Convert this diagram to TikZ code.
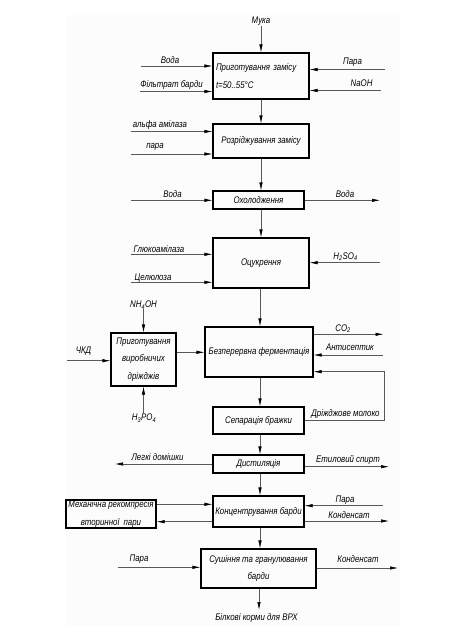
\documentclass[tikz,border=0pt]{standalone}
\usepackage{fontspec}
\setmainfont{Liberation Sans}[FakeStretch=0.82]
\usetikzlibrary{arrows.meta,calc}
\newcommand\dgfont{\fontsize{9.6}{17.5}\selectfont\itshape}
\begin{document}
\begin{tikzpicture}[x=1pt,y=-1pt,
  box/.style={draw=black,line width=1.1pt,inner sep=0pt,align=center,font=\dgfont},
  lbl/.style={inner sep=0pt,font=\dgfont},
  ln/.style={draw=black!65,line width=0.6pt},
  con/.style={ln,-{Latex[length=8pt,width=3.4pt,color=black]}}]
\useasboundingbox (0,0) rectangle (450,626);
\fill[black!1] (66,15) rectangle (400,626);
\coordinate (sp) at (260,0);

% boxes
\node[box,minimum width=96pt,minimum height=46pt,text width=90pt,align=left] (b1) at (261,76) {Приготування замісу\\t=50..55°C};
\node[box,minimum width=96pt,minimum height=34pt] (b2) at (261,141) {Розріджування замісу};
\node[box,minimum width=91pt,minimum height=18pt] (b3) at (258.5,200) {Охолодження};
\node[box,minimum width=96pt,minimum height=50pt] (b4) at (261,263) {Оцукрення};
\node[box,minimum width=65pt,minimum height=53pt] (yeast) at (143.5,359.5) {Приготування\\виробничих\\дріжджів};
\node[box,minimum width=108pt,minimum height=50pt] (ferm) at (259,352) {Безперервна ферментація};
\node[box,minimum width=91pt,minimum height=27pt] (sep) at (258.5,420.5) {Сепарація бражки};
\node[box,minimum width=91pt,minimum height=18pt] (dist) at (258.5,464) {Дистиляція};
\node[box,minimum width=91pt,minimum height=31pt] (conc) at (258.5,511.5) {Концентрування барди};
\node[box,minimum width=90pt,minimum height=28pt] (mech) at (111,514) {Механічна рекомпресія\\вторинної\ \ пари};
\node[box,minimum width=115pt,minimum height=39pt] (dry) at (258.5,568.5) {Сушіння та гранулювання\\барди};

% main spine
\node[lbl] (muka) at (261,21.5) {Мука};
\draw[con] (muka.south) -- (muka.south |- b1.north);
\draw[con] (b1.south) -- (b1.south |- b2.north);
\draw[con] (b2.south) -- (b2.south |- b3.north);
\draw[con] (b3.south -| b2.south) -- (b2.south |- b4.north);
\draw[con] (b4.south -| sp) -- (sp |- ferm.north);
\draw[con] (ferm.south -| sp) -- (sp |- sep.north);
\draw[con] (sep.south -| sp) -- (sp |- dist.north);
\draw[con] (dist.south -| sp) -- (sp |- conc.north);
\draw[con] (conc.south -| sp) -- (sp |- dry.north);
\coordinate (out) at (259,610);
\draw[con] (dry.south -| out) -- (out);
\node[lbl] (tout) at (256.5,618) {Білкові корми для ВРХ};

% box 1 inputs
\coordinate (voda1) at (141,66);
\draw[con] (voda1) -- (voda1 -| b1.west);
\node[lbl] (tvoda1) at (170,60.5) {Вода};
\coordinate (filt) at (140,91.5);
\draw[con] (filt) -- (filt -| b1.west);
\node[lbl] (tfilt) at (171.5,84.5) {Фільтрат барди};
\coordinate (para1) at (385,69.5);
\draw[con] (para1) -- (para1 -| b1.east);
\node[lbl] (tpara1) at (352.5,62) {Пара};
\coordinate (naoh) at (381,90.5);
\draw[con] (naoh) -- (naoh -| b1.east);
\node[lbl] (tnaoh) at (361.5,83.5) {NaOH};

% box 2 inputs
\coordinate (alfa) at (130.5,131.5);
\draw[con] (alfa) -- (alfa -| b2.west);
\node[lbl] (talfa) at (160,125) {альфа амілаза};
\coordinate (para2) at (130.5,154);
\draw[con] (para2) -- (para2 -| b2.west);
\node[lbl] (tpara2) at (155,147) {пара};

% box 3
\coordinate (voda3) at (130.5,200.3);
\draw[con] (voda3) -- (voda3 -| b3.west);
\node[lbl] (tvoda3) at (172.5,194) {Вода};
\coordinate (voda4) at (380,200.3);
\draw[con] (voda4 -| b3.east) -- (voda4);
\node[lbl] (tvoda4) at (345,194) {Вода};

% box 4
\coordinate (gluk) at (130.5,254.3);
\draw[con] (gluk) -- (gluk -| b4.west);
\node[lbl] (tgluk) at (159,249.5) {Глюкоамілаза};
\coordinate (cel) at (130.5,282.3);
\draw[con] (cel) -- (cel -| b4.west);
\node[lbl] (tcel) at (153,278) {Целюлоза};
\coordinate (h2so4) at (380,262.7);
\draw[con] (h2so4) -- (h2so4 -| b4.east);
\node[lbl] (th2so4) at (345.5,256.5) {H\textsubscript{2}SO\textsubscript{4}};

% yeast
\node[lbl] (nh4oh) at (143.5,305) {NH\textsubscript{4}OH};
\draw[con] (yeast.north |- nh4oh.south) -- (yeast.north);
\node[lbl] (h3po4) at (144,418) {H\textsubscript{3}PO\textsubscript{4}};
\draw[con] (yeast.south |- h3po4.north) -- (yeast.south);
\coordinate (ckd) at (66.5,360.7);
\draw[con] (ckd) -- (ckd -| yeast.west);
\node[lbl] (tckd) at (83.5,351) {ЧКД};
\draw[con] (yeast.east |- 0,352.3) -- (ferm.west |- 0,352.3);

% fermentation
\coordinate (co2) at (383.5,334.3);
\draw[con] (co2 -| ferm.east) -- (co2);
\node[lbl] (tco2) at (343,328.5) {CO\textsubscript{2}};
\coordinate (anti) at (383,355);
\draw[con] (anti) -- (anti -| ferm.east);
\node[lbl] (tanti) at (350,347.5) {Антисептик};
\coordinate (mil1) at (384,420);
\coordinate (mil2) at (384,371.7);
\draw[con] (mil1 -| sep.east) -- (mil1) -- (mil2) -- (mil2 -| ferm.east);
\node[lbl] (tmil) at (345.5,414.5) {Дріжджове молоко};

% distillation
\coordinate (legk) at (115,464);
\draw[con] (legk -| dist.west) -- (legk);
\node[lbl] (tlegk) at (157.5,457) {Легкі домішки};
\coordinate (spyrt) at (389,466.7);
\draw[con] (spyrt -| dist.east) -- (spyrt);
\node[lbl] (tspyrt) at (348,459.5) {Етиловий спирт};

% concentration
\draw[con] (mech.east |- 0,504.3) -- (conc.west |- 0,504.3);
\draw[con] (conc.west |- 0,521.7) -- (mech.east |- 0,521.7);
\coordinate (para5) at (383,505.7);
\draw[con] (para5) -- (para5 -| conc.east);
\node[lbl] (tpara5) at (345,500) {Пара};
\coordinate (kond1) at (389,521);
\draw[con] (kond1 -| conc.east) -- (kond1);
\node[lbl] (tkond1) at (349,515.5) {Конденсат};

% drying
\coordinate (para6) at (118,567.3);
\draw[con] (para6) -- (para6 -| dry.west);
\node[lbl] (tpara6) at (139,559.5) {Пара};
\coordinate (kond2) at (398,568);
\draw[con] (kond2 -| dry.east) -- (kond2);
\node[lbl] (tkond2) at (358,559.5) {Конденсат};
\end{tikzpicture}
\end{document}
